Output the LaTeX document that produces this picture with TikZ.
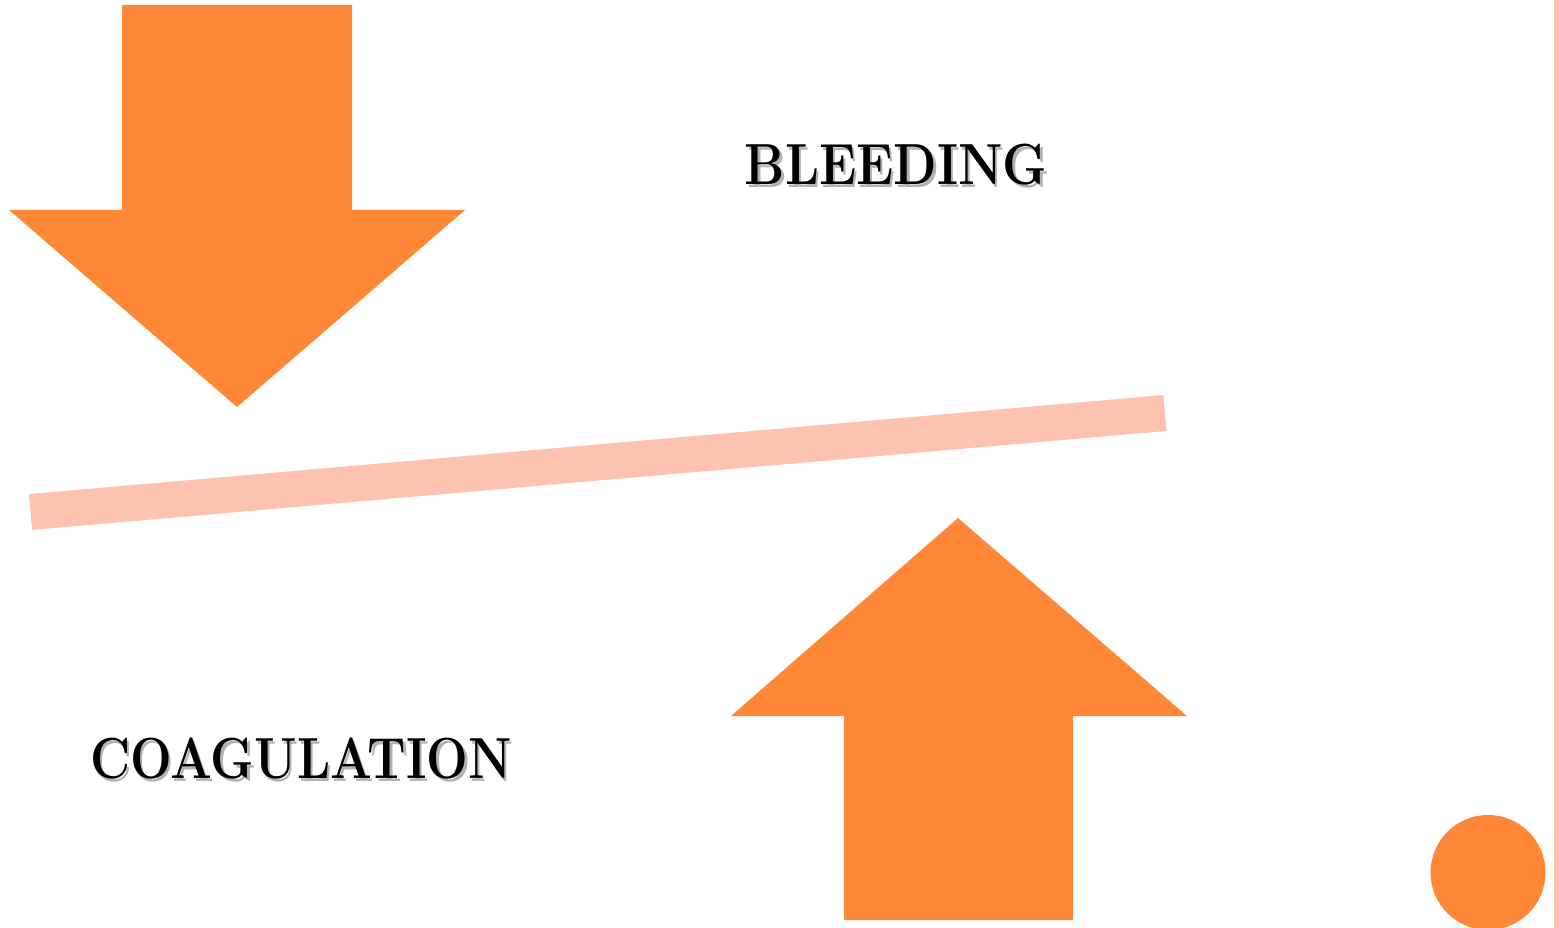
\documentclass[tikz,border=0pt]{standalone}
\usetikzlibrary{calc}
\definecolor{arroworange}{HTML}{FE8837}
\definecolor{barpink}{HTML}{FEC3B0}
\tikzset{
  bigarrow/.style={fill=arroworange, draw=none},
  labeltext/.style={font=\fontsize{58}{60}\selectfont\bfseries, inner sep=0pt},
  labelshadow/.style={labeltext, text=black!30}
}
\begin{document}
\begin{tikzpicture}[x=1pt,y=-1pt]
\useasboundingbox (0,0) rectangle (1559,928);
\clip (0,0) rectangle (1559,928);
% right edge strip
\fill[barpink] (1554,0) rectangle (1559,928);
% down arrow
\fill[bigarrow] (122,5) -- (352,5) -- (352,210) -- (465,210) -- (237,407) -- (9,210) -- (122,210) -- cycle;
% up arrow
\fill[bigarrow] (844,920) -- (1073,920) -- (1073,716) -- (1187,716) -- (958,518) -- (731,716) -- (844,716) -- cycle;
% tilted bar
\coordinate (barL) at (30.5,512);
\coordinate (barR) at (1165,413);
\draw[barpink, line width=36pt] (barL) -- (barR);
% circle
\fill[arroworange] (1488,872.5) circle[radius=57.5pt];
% labels
\node[labelshadow, xscale=0.87] (bleedsh) at (898.5,167.5) {BLEEDING};
\node[labeltext, xscale=0.87] (bleed) at (896,165) {BLEEDING};
\node[labelshadow, xscale=0.85] (coagsh) at (303.5,761.5) {COAGULATION};
\node[labeltext, xscale=0.85] (coag) at (301,759) {COAGULATION};
\end{tikzpicture}
\end{document}
